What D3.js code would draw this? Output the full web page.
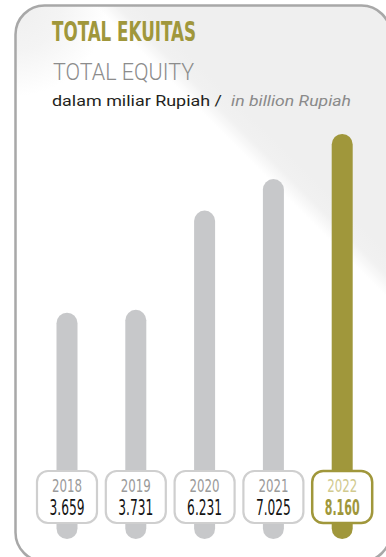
<!DOCTYPE html>
<html>
<head>
<meta charset="utf-8">
<script src="https://cdn.jsdelivr.net/npm/d3@7"></script>
<style>
  html, body { margin: 0; padding: 0; background: #ffffff; }
  svg { display: block; }
</style>
</head>
<body>
<div id="chart"></div>
<script>
// Total equity, 2018–2022 (billion Rupiah)
const years = ["2018", "2019", "2020", "2021", "2022"];
const equity = [3.659, 3.731, 6.231, 7.025, 8.160];
const valueLabels = ["3.659", "3.731", "6.231", "7.025", "8.160"];
const highlightYear = "2022";

const W = 386, H = 557;
const olive = "#a0973b";
const barGray = "#c7c8ca";

const svg = d3.select("#chart").append("svg")
  .attr("width", W).attr("height", H);

const defs = svg.append("defs");

// Panel sheen: white lower-left, light grey upper-right
const sheen = defs.append("linearGradient")
  .attr("id", "sheen")
  .attr("gradientUnits", "userSpaceOnUse")
  .attr("x1", 72).attr("y1", 261)
  .attr("x2", 234).attr("y2", 99);
sheen.append("stop").attr("offset", 0).attr("stop-color", "#ffffff");
sheen.append("stop").attr("offset", 0.86).attr("stop-color", "#ffffff");
sheen.append("stop").attr("offset", 0.93).attr("stop-color", "#f1f1f1");
sheen.append("stop").attr("offset", 1).attr("stop-color", "#efefef");

// Soft grey toward the top-left corner
const corner = defs.append("radialGradient")
  .attr("id", "corner")
  .attr("gradientUnits", "userSpaceOnUse")
  .attr("cx", 16).attr("cy", 6).attr("r", 90);
corner.append("stop").attr("offset", 0).attr("stop-color", "#efefef").attr("stop-opacity", 1);
corner.append("stop").attr("offset", 0.5).attr("stop-color", "#efefef").attr("stop-opacity", 0.7);
corner.append("stop").attr("offset", 1).attr("stop-color", "#efefef").attr("stop-opacity", 0);

const panel = { x: 15.5, y: 5.5, w: 375, h: 556, r: 29 };

defs.append("clipPath").attr("id", "panelClip")
  .append("rect")
  .attr("x", panel.x).attr("y", panel.y)
  .attr("width", panel.w).attr("height", panel.h)
  .attr("rx", panel.r);

const bg = svg.append("g").attr("clip-path", "url(#panelClip)");
bg.append("rect")
  .attr("x", panel.x).attr("y", panel.y)
  .attr("width", panel.w).attr("height", panel.h)
  .attr("fill", "url(#sheen)");
bg.append("rect")
  .attr("x", panel.x).attr("y", panel.y)
  .attr("width", panel.w).attr("height", panel.h)
  .attr("fill", "url(#corner)");

svg.append("rect")
  .attr("x", panel.x).attr("y", panel.y)
  .attr("width", panel.w).attr("height", panel.h)
  .attr("rx", panel.r)
  .attr("fill", "none")
  .attr("stroke", "#a8a8a8")
  .attr("stroke-width", 2.5);

// Headings
svg.append("text")
  .attr("x", 52).attr("y", 40.5)
  .attr("font-family", "'Liberation Sans Narrow', 'DejaVu Sans Condensed', 'Liberation Sans', sans-serif")
  .attr("font-weight", 700)
  .attr("font-size", 27)
  .attr("fill", olive)
  .attr("textLength", 144)
  .attr("lengthAdjust", "spacingAndGlyphs")
  .text("TOTAL EKUITAS");

svg.append("text")
  .attr("x", 53).attr("y", 80)
  .attr("font-family", "Roboto, 'Open Sans', sans-serif")
  .attr("font-weight", 300)
  .attr("font-size", 23)
  .attr("fill", "#8c8c8c")
  .attr("textLength", 141)
  .attr("lengthAdjust", "spacingAndGlyphs")
  .text("TOTAL EQUITY");

svg.append("text")
  .attr("x", 52).attr("y", 106)
  .attr("font-family", "Roboto, 'Open Sans', sans-serif")
  .attr("font-size", 15.5)
  .attr("fill", "#231f20")
  .attr("textLength", 170)
  .attr("lengthAdjust", "spacingAndGlyphs")
  .text("dalam miliar Rupiah /");

svg.append("text")
  .attr("x", 231).attr("y", 106)
  .attr("font-family", "Roboto, 'Open Sans', sans-serif")
  .attr("font-style", "italic")
  .attr("font-size", 15.5)
  .attr("fill", "#8a8a8a")
  .attr("textLength", 120)
  .attr("lengthAdjust", "spacingAndGlyphs")
  .text("in billion Rupiah");

// Scales
const x = d3.scalePoint().domain(years).range([67, 342.2]);
const y = d3.scaleLinear().domain([0, d3.max(equity)]).range([458, 134]);
const barBottom = 539;
const barW = 21;

const data = years.map((yr, i) => ({ year: yr, value: equity[i], label: valueLabels[i] }));

svg.append("g").selectAll("rect")
  .data(data)
  .join("rect")
  .attr("x", d => x(d.year) - barW / 2)
  .attr("y", d => y(d.value))
  .attr("width", barW)
  .attr("height", d => barBottom - y(d.value))
  .attr("rx", barW / 2)
  .attr("fill", d => d.year === highlightYear ? olive : barGray);

// Year / value tags
const boxW = 60, boxH = 52, boxTop = 471;
const tags = svg.append("g").selectAll("g")
  .data(data)
  .join("g")
  .attr("transform", d => `translate(${x(d.year)},0)`);

tags.append("rect")
  .attr("x", -boxW / 2).attr("y", boxTop)
  .attr("width", boxW).attr("height", boxH)
  .attr("rx", 11)
  .attr("fill", "#ffffff")
  .attr("stroke", d => d.year === highlightYear ? olive : "#cfcfcf")
  .attr("stroke-width", d => d.year === highlightYear ? 2.5 : 2.2);

const condensed = "'Liberation Sans Narrow', 'DejaVu Sans Condensed', 'Liberation Sans', sans-serif";

tags.append("text")
  .attr("x", 0).attr("y", 491.5)
  .attr("text-anchor", "middle")
  .attr("font-family", condensed)
  .attr("font-size", 18)
  .attr("fill", d => d.year === highlightYear ? "#d1ca8f" : "#9b9b9b")
  .attr("textLength", 30)
  .attr("lengthAdjust", "spacingAndGlyphs")
  .text(d => d.year);

tags.append("text")
  .attr("x", 0).attr("y", 515)
  .attr("text-anchor", "middle")
  .attr("font-family", condensed)
  .attr("font-size", 21)
  .attr("font-weight", d => d.year === highlightYear ? 700 : 400)
  .attr("fill", d => d.year === highlightYear ? olive : "#141414")
  .attr("textLength", 35)
  .attr("lengthAdjust", "spacingAndGlyphs")
  .text(d => d.label);
</script>
</body>
</html>
